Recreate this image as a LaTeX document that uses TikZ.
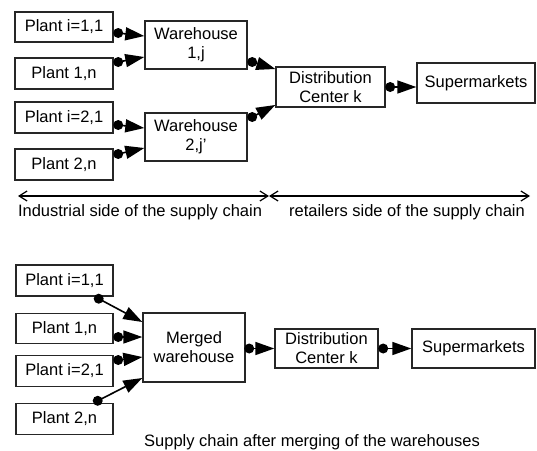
\documentclass[tikz,border=0pt]{standalone}
\usepackage{fontspec}
\setmainfont{Liberation Sans}
\usetikzlibrary{arrows.meta}
\begin{document}
\begin{tikzpicture}[x=1pt,y=-1pt,
  box/.style={draw=black!85, line width=1.4pt, rectangle, inner sep=0pt, align=center,
    font=\fontsize{16.5}{19}\selectfont, text=black},
  flow/.style={line width=1.6pt, -{Triangle[length=19pt,width=13pt]}},
  flowdot/.style={fill=black, circle, inner sep=0pt, minimum size=10pt},
  span/.style={line width=1.2pt, {Straight Barb[length=8pt,width=10pt]}-{Straight Barb[length=8pt,width=10pt]}},
  lbl/.style={font=\fontsize{16.5}{19}\selectfont, text=black, inner sep=0pt}]
\useasboundingbox (0,0) rectangle (537,450);
% top part
\node[box, minimum width=98pt, minimum height=30pt] (p11) at (64,27) {Plant i=1,1};
\node[box, minimum width=98pt, minimum height=31pt] (p1n) at (64,73.5) {Plant 1,n};
\node[box, minimum width=98pt, minimum height=31pt] (p21) at (64,117.5) {Plant i=2,1};
\node[box, minimum width=98pt, minimum height=31pt] (p2n) at (64,164.5) {Plant 2,n};
\node[box, minimum width=102pt, minimum height=48pt] (w1) at (196,45) {Warehouse\\1,j};
\node[box, minimum width=102pt, minimum height=48pt] (w2) at (196,137) {Warehouse\\2,j'};
\node[box, minimum width=109pt, minimum height=40pt] (dc) at (330.5,87) {Distribution\\Center k};
\node[box, minimum width=118pt, minimum height=40pt] (sm) at (476,83) {Supermarkets};
\node[flowdot] (d1) at ([xshift=4.5pt,yshift=-6pt]p11.east) {};
\node[flowdot] (d2) at ([xshift=4.5pt,yshift=11.5pt]p1n.east) {};
\node[flowdot] (d3) at ([xshift=4.5pt,yshift=-7.5pt]p21.east) {};
\node[flowdot] (d4) at ([xshift=4.5pt,yshift=10.5pt]p2n.east) {};
\node[flowdot] (d5) at ([xshift=4.5pt,yshift=-17pt]w1.east) {};
\node[flowdot] (d6) at ([xshift=4.5pt,yshift=20pt]w2.east) {};
\node[flowdot] (d7) at ([xshift=4.5pt]dc.east) {};
\draw[flow] (d1.center) -- ([yshift=9pt]w1.west);
\draw[flow] (d2.center) -- ([yshift=-12pt]w1.west);
\draw[flow] (d3.center) -- ([yshift=9pt]w2.west);
\draw[flow] (d4.center) -- ([yshift=-11pt]w2.west);
\draw[flow] (d5.center) -- ([yshift=18pt]dc.west);
\draw[flow] (d6.center) -- ([yshift=-18pt]dc.west);
\draw[flow] (d7.center) -- (d7.center -| sm.west);
% span arrows
\coordinate (sl) at (18,196);
\coordinate (smid) at (269,196);
\coordinate (sr) at (530,196);
\draw[span] (sl) -- (smid);
\draw[span] (smid) -- (sr);
\node[lbl] (t1) at (140,212) {Industrial side of the supply chain};
\node[lbl] (t2) at (407,212) {retailers side of the supply chain};
% bottom part
\node[box, minimum width=97pt, minimum height=31pt] (q11) at (64.5,280.5) {Plant i=1,1};
\node[box, minimum width=97pt, minimum height=30pt] (q1n) at (64.5,328.5) {Plant 1,n};
\node[box, minimum width=97pt, minimum height=31pt] (q21) at (64.5,371) {Plant i=2,1};
\node[box, minimum width=97pt, minimum height=31pt] (q2n) at (64.5,419) {Plant 2,n};
\node[box, minimum width=102pt, minimum height=69pt] (mw) at (194,347.5) {Merged\\warehouse};
\node[box, minimum width=103pt, minimum height=39pt] (dc2) at (326.5,348.5) {Distribution\\Center k};
\node[box, minimum width=123pt, minimum height=39pt] (sm2) at (473.5,348.5) {Supermarkets};
\node[flowdot] (e1) at ([xshift=-15pt,yshift=-2pt]q11.south east) {};
\node[flowdot] (e2) at ([xshift=4.5pt,yshift=-8.5pt]q1n.east) {};
\node[flowdot] (e3) at ([xshift=4.5pt,yshift=11pt]q21.east) {};
\node[flowdot] (e4) at ([xshift=-16pt,yshift=2pt]q2n.north east) {};
\node[flowdot] (e5) at ([xshift=3.5pt]mw.east |- dc2.west) {};
\node[flowdot] (e6) at ([xshift=4.5pt]dc2.east) {};
\draw[flow] (e1.center) -- ([yshift=25.5pt]mw.west);
\draw[flow] (e2.center) -- ([yshift=10.5pt]mw.west);
\draw[flow] (e3.center) -- ([yshift=-9.5pt]mw.west);
\draw[flow] (e4.center) -- ([yshift=-30.5pt]mw.west);
\draw[flow] (e5.center) -- (dc2.west);
\draw[flow] (e6.center) -- (sm2.west);
\node[lbl] (cap) at (312,442) {Supply chain after merging of the warehouses};
\end{tikzpicture}
\end{document}
